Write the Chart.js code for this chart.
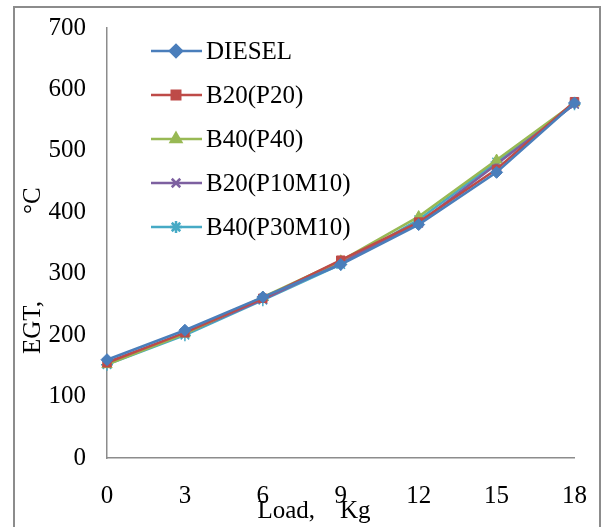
<!DOCTYPE html>
<html lang="en">
<head>
  <meta charset="UTF-8">
  <title>EGT vs Load</title>
  <script src="https://cdn.jsdelivr.net/npm/chart.js"></script>
  <style>
    body {
      margin: 0;
      background: #ffffff;
    }
    .wrap {
      position: relative;
      width: 602px;
      height: 527px;
      overflow: hidden;
    }
    .frame {
      position: absolute;
      left: 13px;
      top: 6px;
      width: 584px;
      height: 540px;
      border: 2px solid #8c8c8c;
    }
    canvas {
      position: absolute;
      left: 0;
      top: 0;
    }
  </style>
</head>
<body>
  <div class="wrap">
    <div class="frame"></div>
    <canvas id="grafica" width="602" height="527"></canvas>
  </div>

  <script>
    const loads = ['0', '3', '6', '9', '12', '15', '18'];
    const seriesNames = ['DIESEL', 'B20(P20)', 'B40(P40)', 'B20(P10M10)', 'B40(P30M10)'];
    const diesel = [160, 208, 262, 315, 380, 465, 578];
    const b20p20 = [155, 204, 260, 322, 384, 470, 580];
    const b40p40 = [152, 202, 262, 321, 393, 485, 578];
    const b20p10m10 = [156, 203, 258, 318, 382, 478, 576];
    const b40p30m10 = [152, 200, 257, 315, 388, 482, 576];

    const colors = ['#4a7ebb', '#be4b48', '#98b954', '#7d60a0', '#46aac5'];
    const styles = ['rectRot', 'rect', 'triangle', 'crossRot', 'star'];
    const values = [diesel, b20p20, b40p40, b20p10m10, b40p30m10];

    const serif = '"Liberation Serif", "Times New Roman", serif';
    const fontSize = 25;

    // legend inside the plot + axis titles placed by hand
    const extras = {
      id: 'extras',
      afterDraw(chart) {
        const ctx = chart.ctx;
        ctx.save();
        chart.data.datasets.forEach((ds, i) => {
          const y = 51 + i * 44;
          ctx.strokeStyle = ds.borderColor;
          ctx.lineWidth = 2.5;
          ctx.beginPath();
          ctx.moveTo(151, y);
          ctx.lineTo(202, y);
          ctx.stroke();
          ctx.fillStyle = ds.backgroundColor;
          ctx.strokeStyle = ds.borderColor;
          Chart.helpers.drawPoint(ctx, {
            pointStyle: ds.pointStyle,
            radius: ds.pointRadius,
            borderWidth: ds.pointBorderWidth,
            rotation: 0
          }, 176, y);
          ctx.fillStyle = '#000';
          ctx.font = fontSize + 'px ' + serif;
          ctx.textBaseline = 'middle';
          ctx.textAlign = 'left';
          ctx.fillText(ds.label, 206, y + 1);
        });

        ctx.fillStyle = '#000';
        ctx.font = fontSize + 'px ' + serif;
        ctx.textAlign = 'center';
        ctx.textBaseline = 'middle';
        ctx.fillText('Load,    Kg', 314, 511);

        ctx.translate(33, 0);
        ctx.rotate(-Math.PI / 2);
        ctx.textAlign = 'left';
        ctx.fillText('EGT,', -354, 0);
        ctx.fillText('\u00B0C', -214, 0);
        ctx.restore();
      }
    };

    const ctx = document.getElementById('grafica').getContext('2d');
    new Chart(ctx, {
      type: 'line',
      data: {
        labels: loads,
        datasets: seriesNames.map((name, i) => ({
          label: name,
          data: values[i],
          borderColor: colors[i],
          backgroundColor: colors[i],
          borderWidth: 2.5,
          pointStyle: styles[i],
          pointRadius: 6,
          pointBorderWidth: styles[i] === 'crossRot' || styles[i] === 'star' ? 1.5 : 1,
          fill: false,
          tension: 0
        }))
      },
      options: {
        responsive: false,
        animation: false,
        layout: { padding: { top: 27, right: 20, left: 0, bottom: 0 } },
        plugins: {
          legend: { display: false },
          tooltip: { enabled: false }
        },
        scales: {
          x: {
            offset: false,
            grid: { display: false },
            border: { display: true, color: '#8c8c8c', width: 1.5 },
            ticks: {
              color: '#000',
              padding: 15,
              maxRotation: 0,
              font: { family: serif, size: fontSize }
            },
            afterFit(scale) { scale.height = 69; }
          },
          y: {
            min: 0,
            max: 700,
            grid: { display: false },
            border: { display: true, color: '#8c8c8c', width: 1.5 },
            ticks: {
              stepSize: 100,
              color: '#000',
              padding: 13,
              font: { family: serif, size: fontSize }
            },
            afterFit(scale) { scale.width = 107; }
          }
        }
      },
      plugins: [extras]
    });
  </script>
</body>
</html>
